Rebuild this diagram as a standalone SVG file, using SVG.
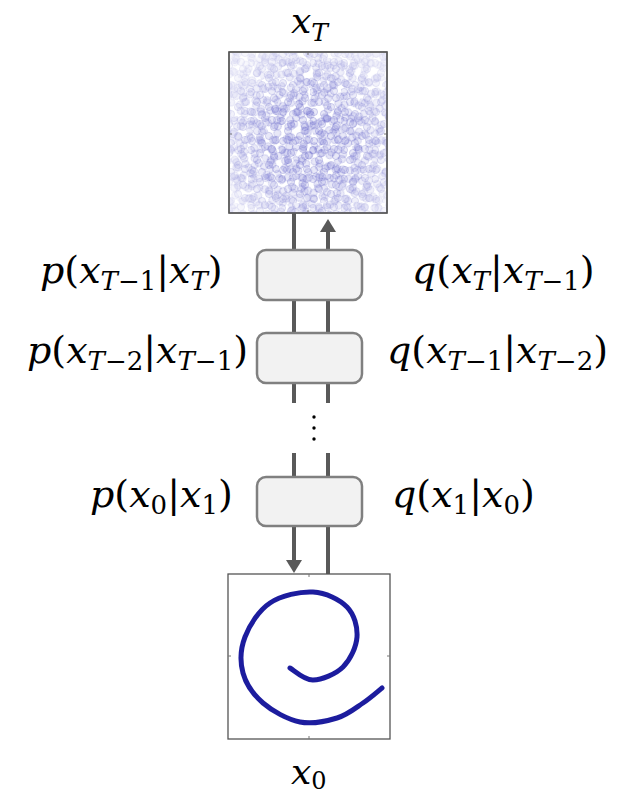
<svg xmlns="http://www.w3.org/2000/svg" width="623" height="794" viewBox="0 0 623 794">
<style>
.lbl{font-family:"DejaVu Serif","Liberation Serif",serif;font-size:38px;fill:#000}
.it{font-style:italic}
.sub{font-size:26px}
.box{fill:#f2f2f2;stroke:#808080;stroke-width:2.5}
.wire{stroke:#595959;stroke-width:4;fill:none}
.frame{fill:#fff;stroke:#555;stroke-width:1.3}
.tick{stroke:#777;stroke-width:1}
.dot{fill:rgba(105,105,205,0.17);stroke:rgba(80,80,190,0.28);stroke-width:0.9}
</style>
<defs>
<marker id="arr" markerUnits="userSpaceOnUse" markerWidth="13" markerHeight="16" refX="2" refY="8" orient="auto">
<path d="M0,0 L13,8 L0,16 z" fill="#595959"/>
</marker>
<clipPath id="clipT"><rect x="230" y="53" width="157" height="160"/></clipPath>
<radialGradient id="dens" cx="0.52" cy="0.55" r="0.62">
<stop offset="0" stop-color="#fff"/>
<stop offset="0.45" stop-color="#e6e6e6"/>
<stop offset="0.8" stop-color="#999"/>
<stop offset="1" stop-color="#555"/>
</radialGradient>
<mask id="mT"><rect x="229" y="52" width="158" height="161" fill="url(#dens)"/></mask>
<pattern id="pA" patternUnits="userSpaceOnUse" width="31" height="29">
<g class="dot"><circle cx="3" cy="5" r="3.6"/><circle cx="17" cy="2" r="3.6"/><circle cx="26" cy="11" r="3.6"/><circle cx="9" cy="15" r="3.6"/><circle cx="21" cy="20" r="3.6"/><circle cx="4" cy="25" r="3.6"/><circle cx="14" cy="27" r="3.6"/><circle cx="28" cy="24" r="3.6"/><circle cx="12" cy="8" r="3.6"/><circle cx="24" cy="4" r="3.6"/></g>
</pattern>
<pattern id="pB" patternUnits="userSpaceOnUse" width="37" height="41" patternTransform="rotate(23)">
<g class="dot"><circle cx="6" cy="8" r="3.6"/><circle cx="19" cy="4" r="3.6"/><circle cx="31" cy="14" r="3.6"/><circle cx="12" cy="22" r="3.6"/><circle cx="26" cy="29" r="3.6"/><circle cx="3" cy="35" r="3.6"/><circle cx="33" cy="37" r="3.6"/><circle cx="18" cy="38" r="3.6"/><circle cx="8" cy="30" r="3.6"/><circle cx="22" cy="16" r="3.6"/><circle cx="34" cy="25" r="3.6"/></g>
</pattern>
<pattern id="pC" patternUnits="userSpaceOnUse" width="23" height="47" patternTransform="rotate(-37)">
<g class="dot"><circle cx="5" cy="9" r="3.6"/><circle cx="16" cy="18" r="3.6"/><circle cx="8" cy="33" r="3.6"/><circle cx="19" cy="41" r="3.6"/><circle cx="12" cy="3" r="3.6"/><circle cx="2" cy="24" r="3.6"/><circle cx="15" cy="28" r="3.6"/></g>
</pattern>
<pattern id="pD" patternUnits="userSpaceOnUse" width="43" height="19" patternTransform="rotate(61)">
<g class="dot"><circle cx="4" cy="6" r="3.6"/><circle cx="15" cy="13" r="3.6"/><circle cx="27" cy="3" r="3.6"/><circle cx="36" cy="12" r="3.6"/><circle cx="21" cy="17" r="3.6"/><circle cx="9" cy="16" r="3.6"/></g>
</pattern>
<pattern id="pE" patternUnits="userSpaceOnUse" width="53" height="59" patternTransform="rotate(11)">
<g class="dot"><circle cx="7" cy="11" r="3.6"/><circle cx="30" cy="6" r="3.6"/><circle cx="45" cy="20" r="3.6"/><circle cx="18" cy="29" r="3.6"/><circle cx="38" cy="41" r="3.6"/><circle cx="5" cy="50" r="3.6"/><circle cx="26" cy="54" r="3.6"/><circle cx="49" cy="53" r="3.6"/><circle cx="14" cy="4" r="3.6"/></g>
</pattern>
<filter id="soft" x="-5%" y="-5%" width="110%" height="110%"><feGaussianBlur stdDeviation="0.7"/></filter>
<filter id="soft2" x="-5%" y="-5%" width="110%" height="110%"><feGaussianBlur stdDeviation="0.6"/></filter>
</defs>

<g id="label-xT"><text class="lbl it" x="291" y="33" style="font-size:36px">x<tspan dy="8" style="font-size:25px">T</tspan></text></g>

<g id="plot-xT">
<rect class="frame" x="229" y="52" width="158" height="161"/>
<g clip-path="url(#clipT)">
<g mask="url(#mT)" filter="url(#soft2)">
<rect x="229" y="52" width="158" height="161" fill="url(#pA)"/>
<rect x="229" y="52" width="158" height="161" fill="url(#pB)"/>
<rect x="229" y="52" width="158" height="161" fill="url(#pC)"/>
<rect x="229" y="52" width="158" height="161" fill="url(#pD)"/>
<rect x="229" y="52" width="158" height="161" fill="url(#pE)"/>
</g>
</g>
<g class="tick"><line x1="308" y1="52" x2="308" y2="55"/><line x1="308" y1="213" x2="308" y2="210"/><line x1="229" y1="134" x2="232" y2="134"/><line x1="387" y1="134" x2="384" y2="134"/></g>
<rect x="229" y="52" width="158" height="161" fill="none" stroke="#555" stroke-width="1.3"/>
</g>

<g id="connectors">
<line class="wire" x1="294" y1="213" x2="294" y2="251"/>
<line class="wire" x1="328" y1="251" x2="328" y2="230" marker-end="url(#arr)"/>
<line class="wire" x1="294" y1="299" x2="294" y2="334"/>
<line class="wire" x1="328" y1="299" x2="328" y2="334"/>
<line class="wire" x1="294" y1="382" x2="294" y2="403"/>
<line class="wire" x1="328" y1="382" x2="328" y2="403"/>
<line class="wire" x1="294" y1="453" x2="294" y2="478"/>
<line class="wire" x1="328" y1="453" x2="328" y2="478"/>
<line class="wire" x1="294" y1="525" x2="294" y2="562" marker-end="url(#arr)"/>
<line class="wire" x1="328" y1="525" x2="328" y2="575"/>
</g>

<g id="step-T"><rect class="box" x="257" y="250" width="105" height="50" rx="9"/></g>
<g id="step-T-1"><rect class="box" x="257" y="333" width="105" height="50" rx="9"/></g>
<g id="ellipsis"><circle cx="314" cy="417" r="1.7"/><circle cx="314" cy="428" r="1.7"/><circle cx="314" cy="439" r="1.7"/></g>
<g id="step-1"><rect class="box" x="257" y="477" width="105" height="49" rx="9"/></g>

<g id="labels-p">
<text class="lbl" x="40" y="283"><tspan class="it">p</tspan>(<tspan class="it">x</tspan><tspan class="sub" dy="7"><tspan class="it">T</tspan>−1</tspan><tspan dy="-7">|</tspan><tspan class="it">x</tspan><tspan class="sub it" dy="7">T</tspan><tspan dy="-7">)</tspan></text>
<text class="lbl" x="27" y="363"><tspan class="it">p</tspan>(<tspan class="it">x</tspan><tspan class="sub" dy="7"><tspan class="it">T</tspan>−2</tspan><tspan dy="-7">|</tspan><tspan class="it">x</tspan><tspan class="sub" dy="7"><tspan class="it">T</tspan>−1</tspan><tspan dy="-7">)</tspan></text>
<text class="lbl" x="90" y="507"><tspan class="it">p</tspan>(<tspan class="it">x</tspan><tspan class="sub" dy="7">0</tspan><tspan dy="-7">|</tspan><tspan class="it">x</tspan><tspan class="sub" dy="7">1</tspan><tspan dy="-7">)</tspan></text>
</g>

<g id="labels-q">
<text class="lbl" x="412" y="283"><tspan class="it">q</tspan>(<tspan class="it">x</tspan><tspan class="sub it" dy="7">T</tspan><tspan dy="-7">|</tspan><tspan class="it">x</tspan><tspan class="sub" dy="7"><tspan class="it">T</tspan>−1</tspan><tspan dy="-7">)</tspan></text>
<text class="lbl" x="387" y="363"><tspan class="it">q</tspan>(<tspan class="it">x</tspan><tspan class="sub" dy="7"><tspan class="it">T</tspan>−1</tspan><tspan dy="-7">|</tspan><tspan class="it">x</tspan><tspan class="sub" dy="7"><tspan class="it">T</tspan>−2</tspan><tspan dy="-7">)</tspan></text>
<text class="lbl" x="392" y="507"><tspan class="it">q</tspan>(<tspan class="it">x</tspan><tspan class="sub" dy="7">1</tspan><tspan dy="-7">|</tspan><tspan class="it">x</tspan><tspan class="sub" dy="7">0</tspan><tspan dy="-7">)</tspan></text>
</g>

<g id="plot-x0">
<rect class="frame" x="228" y="574" width="162" height="165"/>
<g class="tick"><line x1="309" y1="574" x2="309" y2="577"/><line x1="309" y1="739" x2="309" y2="736"/><line x1="228" y1="656" x2="231" y2="656"/><line x1="390" y1="656" x2="387" y2="656"/></g>
<path d="M290,668 C293.8,670 304.2,680.2 313,680 C321.8,679.8 335.7,674.2 343,667 C350.3,659.8 356.3,647 357,637 C357.7,627 354.3,614.5 347,607 C339.7,599.5 325.8,592.7 313,592 C300.2,591.3 281.3,595.5 270,603 C258.7,610.5 249.5,625.3 245,637 C240.5,648.7 240,662 243,673 C246,684 253.5,694.8 263,703 C272.5,711.2 287.7,719.5 300,722 C312.3,724.5 326.5,721.2 337,718 C347.5,714.8 355.5,708 363,703 C370.5,698 378.8,690.5 382,688" fill="none" stroke="#1e1e9e" stroke-width="5" stroke-linecap="round" filter="url(#soft)"/>
</g>

<g id="label-x0"><text class="lbl it" x="291" y="784" style="font-size:36px">x<tspan dy="5" style="font-size:24px;font-style:normal">0</tspan></text></g>
</svg>
